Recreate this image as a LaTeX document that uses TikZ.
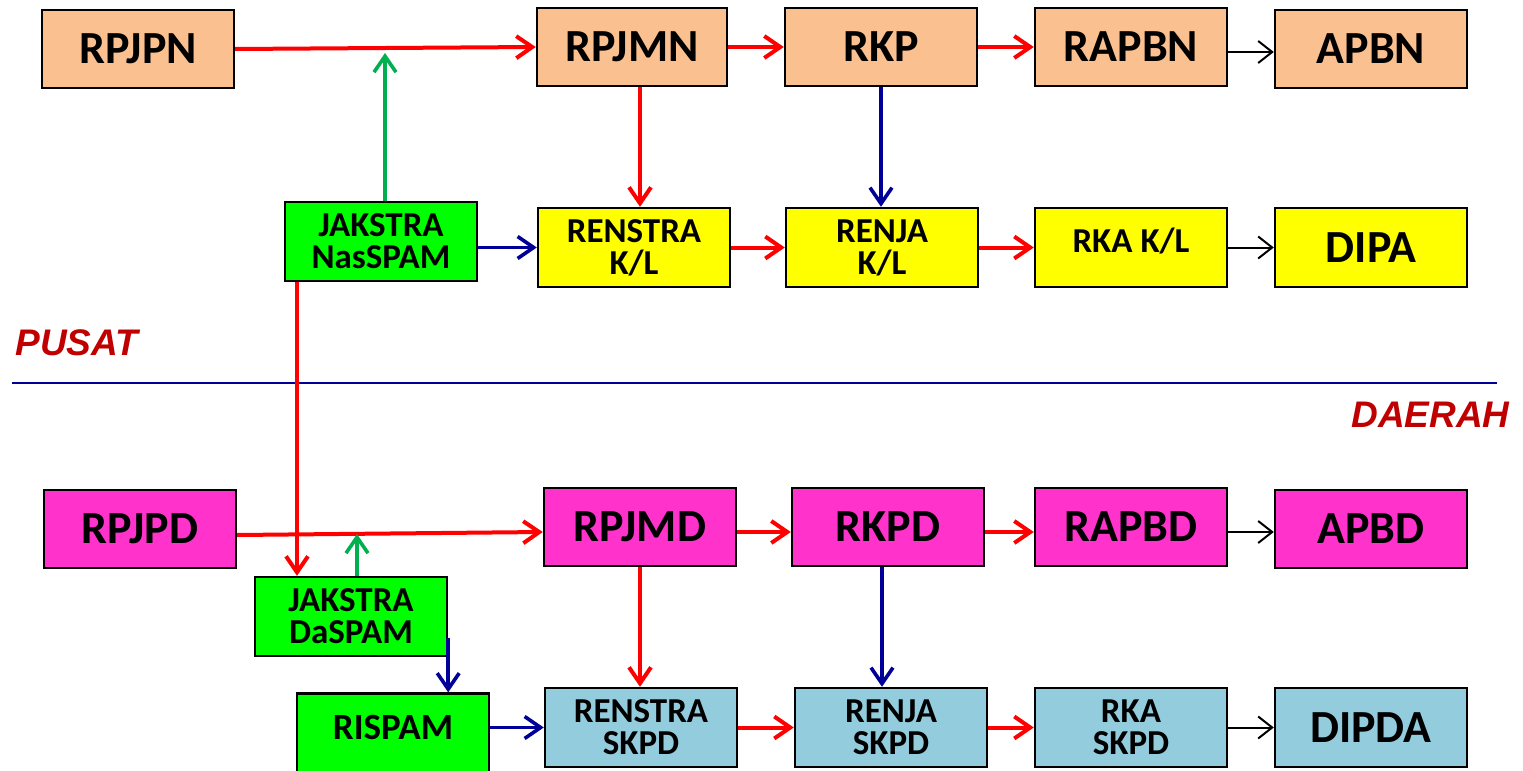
\documentclass[tikz,border=0pt]{standalone}
\usepackage{fontspec}
\setmainfont{Carlito}
\newfontfamily\arialfont{Liberation Sans}
\usetikzlibrary{arrows.meta,calc}
\definecolor{peach}{HTML}{FAC090}
\definecolor{ylw}{HTML}{FFFF00}
\definecolor{grn}{HTML}{00FF00}
\definecolor{mag}{HTML}{FF33CC}
\definecolor{lblue}{HTML}{93CDDD}
\definecolor{arrred}{HTML}{FF0000}
\definecolor{arrblue}{HTML}{000099}
\definecolor{arrgreen}{HTML}{00B050}
\definecolor{labred}{HTML}{C00000}
\begin{document}
\begin{tikzpicture}[x=0.5pt,y=-0.5pt,
  box/.style={draw=black,line width=1.2pt,minimum width=96pt,minimum height=39pt,inner sep=0pt,align=center,font=\bfseries\fontsize{23}{23}\selectfont},
  smalltxt/.style={font=\bfseries\fontsize{17.5}{16}\selectfont},
  redarr/.style={draw=arrred,line width=2pt,-{Straight Barb[length=8pt,width=11pt]}},
  bluearr/.style={draw=arrblue,line width=1.8pt,-{Straight Barb[length=8pt,width=11pt]}},
  greenarr/.style={draw=arrgreen,line width=1.8pt,-{Straight Barb[length=8pt,width=11pt]}},
  blackarr/.style={draw=black,line width=1pt,-{Straight Barb[length=7pt,width=11pt]}},
  sidelabel/.style={text=labred,inner sep=0pt,font=\arialfont\bfseries\itshape\fontsize{18.5}{18.5}\selectfont}
]
\useasboundingbox (0,0) rectangle (1523,771);
% top row
\node[box,fill=peach] (rpjpn) at (138,49) {RPJPN};
\node[box,fill=peach,minimum width=95pt] (rpjmn) at (632,47) {RPJMN};
\node[box,fill=peach] (rkp) at (881,47) {RKP};
\node[box,fill=peach] (rapbn) at (1131,47) {RAPBN};
\node[box,fill=peach] (apbn) at (1371,49) {APBN};
% second row
\node[box,smalltxt,fill=grn,minimum height=39.5pt] (nas) at (381,241.5) {JAKSTRA\\NasSPAM};
\node[box,smalltxt,fill=ylw,minimum height=39.5pt] (renstra) at (634,247.5) {RENSTRA\\K/L};
\node[box,smalltxt,fill=ylw,minimum height=39.5pt] (renja) at (882,247.5) {RENJA\\K/L};
\node[box,smalltxt,fill=ylw,minimum height=39.5pt] (rka) at (1131,247.5) {\raisebox{3pt}[\height][\depth]{RKA K/L}};
\node[box,fill=ylw,minimum height=39.5pt] (dipa) at (1371,247.5) {DIPA};
% labels and divider
\node[sidelabel,anchor=base west] (pusat) at (15,355) {PUSAT};
\node[sidelabel,anchor=base east] (daerah) at (1510,427) {DAERAH};
\coordinate (divl) at (12,383);
\coordinate (divr) at (1497,383);
\draw[arrblue,line width=0.8pt] (divl) -- (divr);
% third row
\node[box,fill=mag] (rpjpd) at (140,529) {RPJPD};
\node[box,fill=mag] (rpjmd) at (640,527) {RPJMD};
\node[box,fill=mag] (rkpd) at (888,527) {RKPD};
\node[box,fill=mag] (rapbd) at (1131,527) {RAPBD};
\node[box,fill=mag] (apbd) at (1371,529) {APBD};
% fourth rows
\node[box,smalltxt,fill=grn,minimum height=39.5pt] (das) at (351,616.5) {JAKSTRA\\DaSPAM};
\node[box,fill=grn,minimum height=39.5pt,font=\bfseries\fontsize{18.5}{18.5}\selectfont] (rispam) at (393,733) {\raisebox{3pt}[\height][\depth]{RISPAM}};
\node[box,smalltxt,fill=lblue,minimum height=39.5pt] (renskpd) at (641,727.5) {RENSTRA\\SKPD};
\node[box,smalltxt,fill=lblue,minimum height=39.5pt] (renjaskpd) at (891,727.5) {RENJA\\SKPD};
\node[box,smalltxt,fill=lblue,minimum height=39.5pt] (rkaskpd) at (1131,727.5) {RKA\\SKPD};
\node[box,fill=lblue,minimum height=39.5pt] (dipda) at (1371,727.5) {DIPDA};
% top connectors
\coordinate (g1) at (385,53);
\draw[redarr] (rpjpn.east) -- (rpjmn.west);
\draw[greenarr] ([xshift=2pt]nas.north) -- (g1);
\draw[redarr] (rpjmn.east) -- (rkp.west);
\draw[redarr] (rkp.east) -- (rapbn.west);
\draw[blackarr] ([yshift=-2.5pt]rapbn.east) -- ([yshift=-1.5pt]apbn.west);
\draw[redarr] ([xshift=4pt]rpjmn.south) -- ([xshift=4pt]rpjmn.south |- renstra.north);
\draw[bluearr] (rkp.south) -- (rkp.south |- renja.north);
\draw[bluearr] (nas.east |- renstra.west) -- (renstra.west);
\draw[redarr] (renstra.east) -- (renja.west);
\draw[redarr] (renja.east) -- (rka.west);
\draw[blackarr] (rka.east) -- (dipa.west);
\draw[redarr] ([xshift=-42pt]nas.south) -- ([xshift=-42pt]nas.south |- das.north);
% bottom connectors
\coordinate (g2) at (357,534);
\draw[redarr] ([yshift=-3pt]rpjpd.east) -- ([yshift=-2.5pt]rpjmd.west);
\draw[greenarr] ([xshift=3pt]das.north) -- (g2);
\draw[redarr] ([yshift=-2.5pt]rpjmd.east) -- ([yshift=-2.5pt]rkpd.west);
\draw[redarr] ([yshift=-2.5pt]rkpd.east) -- ([yshift=-2.5pt]rapbd.west);
\draw[blackarr] ([yshift=-2.5pt]rapbd.east) -- ([yshift=-1.5pt]apbd.west);
\draw[redarr] (rpjmd.south) -- (rpjmd.south |- renskpd.north);
\draw[bluearr] ([xshift=-3pt]rkpd.south) -- ([xshift=-3pt]rkpd.south |- renjaskpd.north);
\draw[bluearr] ([yshift=-10.5pt]das.east) -- (das.east |- rispam.north);
\draw[bluearr] (rispam.east |- renskpd.west) -- (renskpd.west);
\draw[redarr] (renskpd.east) -- (renjaskpd.west);
\draw[redarr] (renjaskpd.east) -- (rkaskpd.west);
\draw[blackarr] (rkaskpd.east) -- (dipda.west);
\end{tikzpicture}
\end{document}
